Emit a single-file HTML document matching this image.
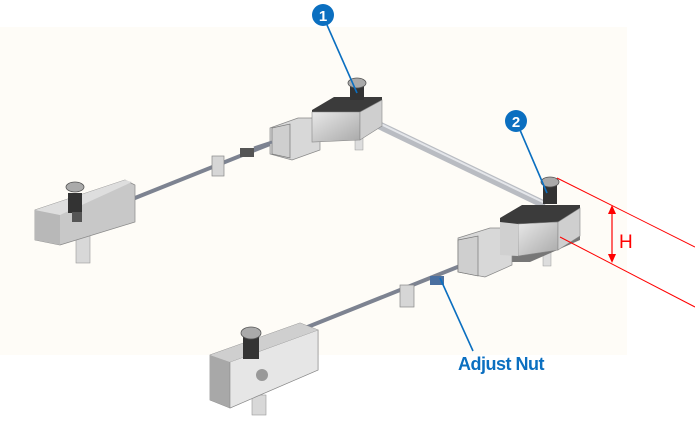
<!DOCTYPE html>
<html><head><style>
html,body{margin:0;padding:0;background:#fff;}
svg{display:block;}
text{font-family:"Liberation Sans",sans-serif;}
</style></head><body>
<svg width="695" height="427" viewBox="0 0 695 427" xmlns="http://www.w3.org/2000/svg">
<defs>
<linearGradient id="face" x1="0" y1="0" x2="1" y2="1"><stop offset="0" stop-color="#e8e8e8"/><stop offset="1" stop-color="#a9a9a9"/></linearGradient>
</defs>
<rect x="0" y="27" width="627" height="328" fill="#fefcf7"/>

<!-- rods -->
<line x1="130" y1="200" x2="280" y2="140" stroke="#7d8391" stroke-width="4"/>
<line x1="300" y1="330" x2="470" y2="262" stroke="#7d8391" stroke-width="4"/>
<line x1="362" y1="117" x2="545" y2="205" stroke="#b9bcc2" stroke-width="8"/>
<line x1="362" y1="115" x2="545" y2="203" stroke="#e4e6ea" stroke-width="2"/>

<!-- supports -->
<rect x="212" y="156" width="12" height="20" fill="#d6d6d6" stroke="#888" stroke-width="0.7"/>
<rect x="400" y="285" width="14" height="22" fill="#d6d6d6" stroke="#888" stroke-width="0.7"/>
<rect x="240" y="148" width="14" height="9" fill="#555"/>
<rect x="430" y="276" width="14" height="9" fill="#4a6fa0"/>

<!-- top middle unit -->
<rect x="355" y="130" width="8" height="20" fill="#ddd" stroke="#999" stroke-width="0.5"/>
<polygon points="270,128 298,118 320,118 320,150 292,160 270,154" fill="#d8d8d8" stroke="#888" stroke-width="0.7"/>
<polygon points="272,128 290,124 290,158 272,154" fill="#cfcfcf" stroke="#777" stroke-width="0.7"/>
<line x1="254" y1="148" x2="272" y2="142" stroke="#7d8391" stroke-width="3"/>
<polygon points="312,110 334,97 382,97 382,103 360,115 312,115" fill="#3b3b3b"/>
<polygon points="312,112 360,112 360,140 312,142" fill="url(#face)" stroke="#888" stroke-width="0.6"/>
<polygon points="360,112 382,100 382,126 360,140" fill="#cfcfcf" stroke="#888" stroke-width="0.6"/>
<rect x="350" y="86" width="14" height="14" fill="#333"/>
<ellipse cx="357" cy="83" rx="9" ry="5" fill="#aaa" stroke="#555" stroke-width="0.8"/>

<!-- right unit -->
<rect x="543" y="250" width="8" height="16" fill="#ddd" stroke="#999" stroke-width="0.5"/>
<polygon points="500,250 545,250 580,232 580,240 530,262 500,262" fill="#777"/>
<polygon points="458,238 490,228 512,228 512,265 485,277 458,272" fill="#d8d8d8" stroke="#888" stroke-width="0.7"/>
<polygon points="458,240 478,236 478,276 458,272" fill="#cfcfcf" stroke="#777" stroke-width="0.7"/>
<polygon points="500,218 522,205 580,205 580,210 558,224 500,224" fill="#3b3b3b"/>
<polygon points="518,224 558,222 558,250 518,256" fill="url(#face)" stroke="#888" stroke-width="0.6"/>
<polygon points="500,222 518,224 518,256 500,255" fill="#d0d0d0"/>
<polygon points="558,222 580,208 580,236 558,250" fill="#cfcfcf" stroke="#888" stroke-width="0.6"/>
<rect x="543" y="184" width="14" height="20" fill="#333"/>
<ellipse cx="550" cy="182" rx="9" ry="5" fill="#aaa" stroke="#555" stroke-width="0.8"/>

<!-- left unit -->
<rect x="76" y="235" width="14" height="28" fill="#d8d8d8" stroke="#999" stroke-width="0.6"/>
<polygon points="35,210 125,180 135,185 135,222 60,245 35,240" fill="#c8c8c8" stroke="#888" stroke-width="0.7"/>
<polygon points="35,210 60,215 60,245 35,240" fill="#b8b8b8"/>
<polygon points="35,210 125,180 132,182 60,215" fill="#dedede"/>
<rect x="68" y="193" width="14" height="20" fill="#333"/>
<ellipse cx="75" cy="187" rx="9" ry="5" fill="#aaa" stroke="#555" stroke-width="0.8"/>
<rect x="72" y="212" width="10" height="10" fill="#555"/>

<!-- bottom unit -->
<rect x="252" y="395" width="14" height="20" fill="#d8d8d8" stroke="#999" stroke-width="0.6"/>
<polygon points="210,355 300,323 318,330 318,370 230,408 210,400" fill="#c8c8c8" stroke="#888" stroke-width="0.7"/>
<polygon points="210,355 230,362 230,408 210,400" fill="#a8a8a8"/>
<polygon points="230,362 318,330 318,370 230,408" fill="#e6e6e6" stroke="#888" stroke-width="0.6"/>
<polygon points="210,355 300,323 318,330 230,362" fill="#cfcfcf"/>
<rect x="243" y="337" width="16" height="22" fill="#333"/>
<ellipse cx="251" cy="333" rx="10" ry="6" fill="#aaa" stroke="#555" stroke-width="0.8"/>
<circle cx="262" cy="375" r="6" fill="#999"/>

<!-- callouts -->
<line x1="327" y1="25" x2="357" y2="93" stroke="#0b6fc0" stroke-width="1.6"/>
<circle cx="323" cy="15" r="11" fill="#0b6fc0"/>
<text x="323" y="21" font-size="15" font-weight="bold" fill="#fff" text-anchor="middle">1</text>
<line x1="520" y1="130" x2="547" y2="193" stroke="#0b6fc0" stroke-width="1.6"/>
<circle cx="516" cy="121" r="11" fill="#0b6fc0"/>
<text x="516" y="127" font-size="15" font-weight="bold" fill="#fff" text-anchor="middle">2</text>
<line x1="473" y1="351" x2="440" y2="278" stroke="#0b6fc0" stroke-width="1.6"/>
<text x="458" y="370" font-size="18" font-weight="bold" fill="#0b6fc0" letter-spacing="-0.5">Adjust Nut</text>

<!-- H dimension -->
<line x1="557" y1="178" x2="695" y2="247" stroke="#f00" stroke-width="1"/>
<line x1="560" y1="237" x2="695" y2="307" stroke="#f00" stroke-width="1"/>
<line x1="612" y1="208" x2="612" y2="260" stroke="#f00" stroke-width="1.2"/>
<polygon points="612,205 608,214 616,214" fill="#f00"/>
<polygon points="612,263 608,254 616,254" fill="#f00"/>
<text x="619" y="248" font-size="19" fill="#f00">H</text>
</svg>
</body></html>
